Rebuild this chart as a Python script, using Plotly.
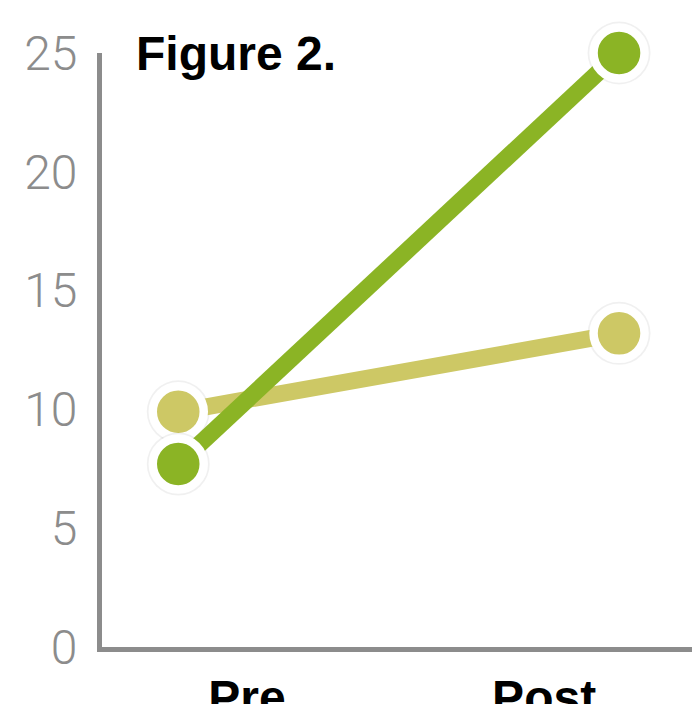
import plotly.graph_objects as go

categories = ["Pre", "Post"]
x_pos = [0, 1]
series_light = [9.9, 13.2]
series_dark = [7.7, 25.0]
y_ticks = [0, 5, 10, 15, 20, 25]
cat_label_pos = [0.156, 0.83]

LIGHT = "#CDC865"
DARK = "#8BB425"
AXIS = "#8C8C8C"

fig = go.Figure()
for vals, col in [(series_light, LIGHT), (series_dark, DARK)]:
    # soft shadow under markers
    fig.add_trace(go.Scatter(
        x=x_pos, y=vals, mode="markers",
        marker=dict(size=63, color="rgba(0,0,0,0.06)", line=dict(width=0)),
        cliponaxis=False, hoverinfo="skip", showlegend=False))
    fig.add_trace(go.Scatter(
        x=x_pos, y=vals, mode="lines+markers",
        line=dict(color=col, width=17),
        marker=dict(size=51, color=col, line=dict(color="white", width=8.5)),
        cliponaxis=False, showlegend=False))

fig.update_layout(
    width=692, height=704,
    margin=dict(l=102, r=0, t=53, b=57, autoexpand=False),
    paper_bgcolor="white", plot_bgcolor="white",
    font=dict(family="Liberation Sans, Arial, sans-serif"),
    xaxis=dict(
        range=[-0.173, 1.1655], showgrid=False, zeroline=False,
        showline=True, linewidth=5, linecolor=AXIS, automargin=False,
        tickmode="array", tickvals=cat_label_pos, ticktext=categories,
        ticks="", tickfont=dict(size=48, color="black", weight="bold"),
        ticklabelstandoff=4,
    ),
    yaxis=dict(
        range=[0, 25], showgrid=False, zeroline=False,
        showline=True, linewidth=5, linecolor=AXIS, automargin=False,
        tickmode="array", tickvals=y_ticks,
        ticks="", tickfont=dict(size=48, color=AXIS, family="Roboto, Liberation Sans, sans-serif", weight=300),
        ticklabelstandoff=10,
    ),
    annotations=[dict(
        text="Figure 2.", xref="paper", yref="paper", x=0.055, y=1.0,
        xanchor="left", yanchor="middle", showarrow=False,
        font=dict(size=48, color="black", weight="bold",
                  family="Liberation Sans, Arial, sans-serif"),
    )],
)

fig.write_html("out.html")
